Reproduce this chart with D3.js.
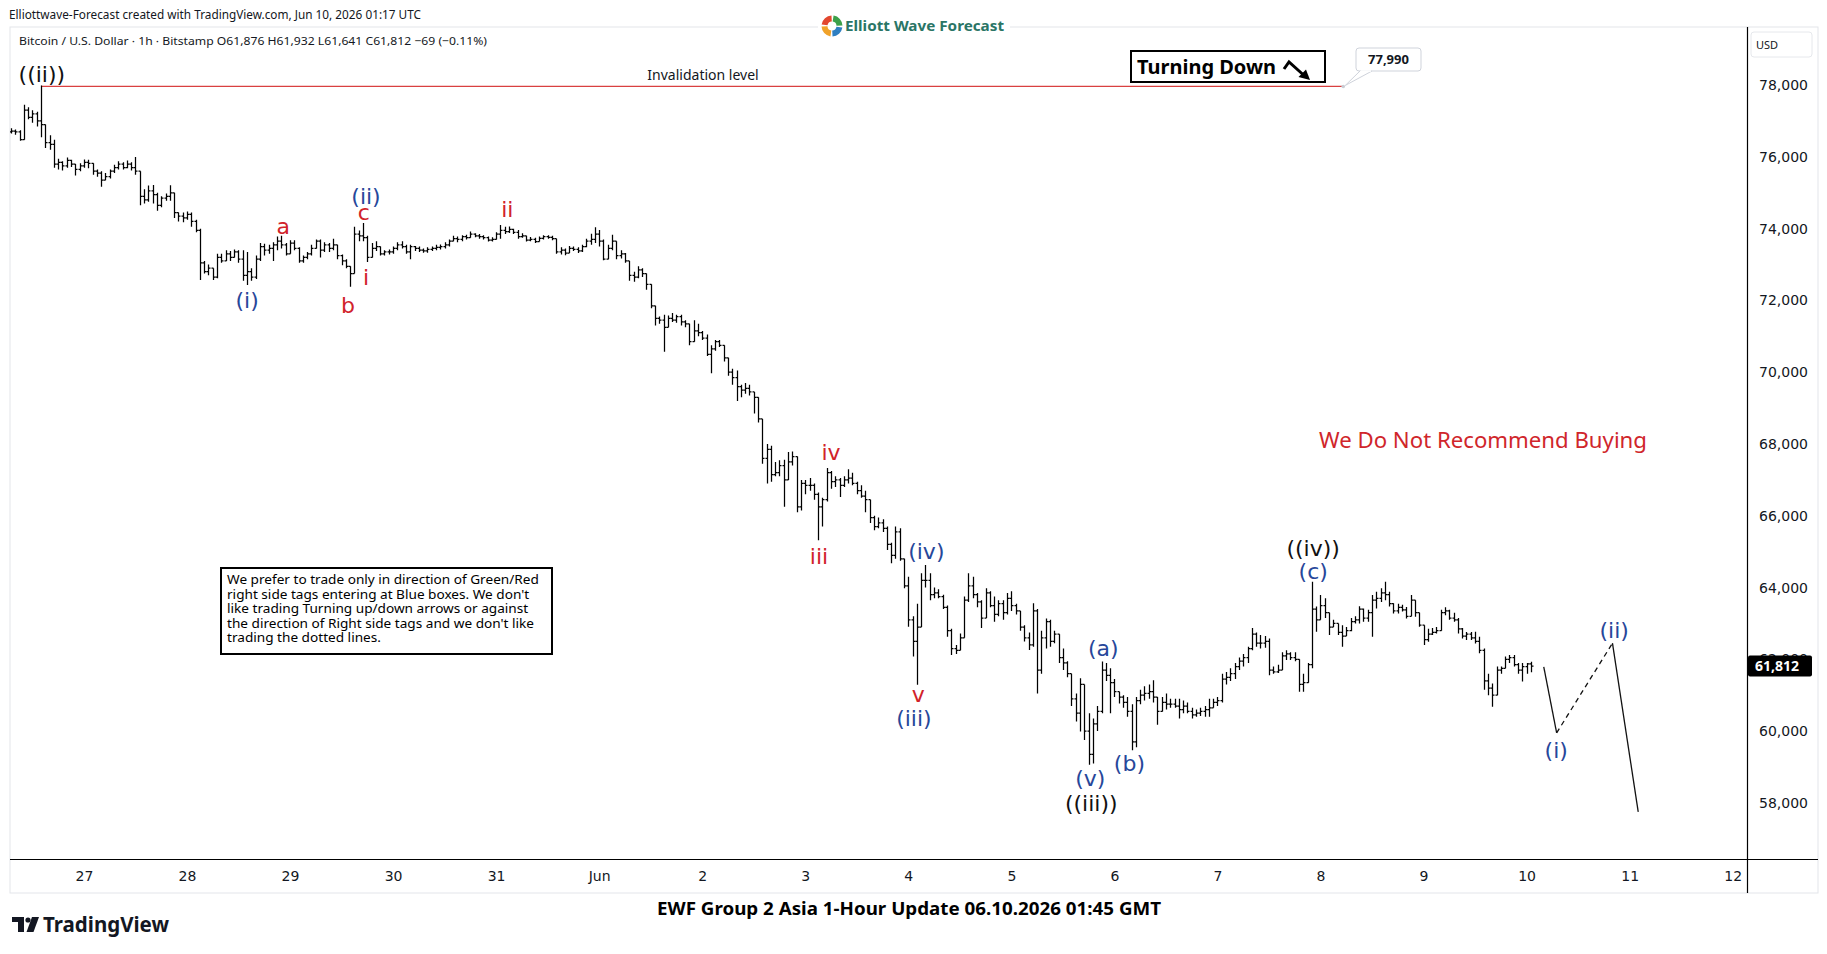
<!DOCTYPE html>
<html lang="en">

<head>
  <meta charset="UTF-8" />
  <title>BTCUSD 1h - Elliott Wave</title>
  <style>
    body {
      margin: 0;
      background: #fff;
    }

    svg {
      display: block;
    }

    text {
      font-family: "Noto Sans", sans-serif;
      fill: #131722;
    }

    .axis text {
      font-family: "DejaVu Sans", sans-serif;
      font-size: 14px;
      fill: #131722;
    }

    .axis path {
      display: none;
    }

    .bar {
      fill: none;
      stroke: #000;
      stroke-width: 1.25;
    }

    .wave {
      font-family: "DejaVu Sans", sans-serif;
      font-size: 22px;
      text-anchor: middle;
    }
  </style>
</head>

<body>
  <svg width="1827" height="954"></svg>

  <script src="https://d3js.org/d3.v7.min.js"></script>
  <script>
    // ---- data: BTC/USD 1h bars, first bar May 26 07:00 UTC, open of each bar = previous close
    const firstBar = Date.UTC(2026, 4, 26, 7);
    const firstOpen = 76700;

    const highs = [
      76800, 76760, 76740, 77450, 77380, 77300, 77260, 77990, 76900, 76600,
      76480, 75950, 75880, 75980, 75920, 75800, 75820, 75930, 75920, 75780,
      75650, 75600, 75550, 75650, 75780, 75880, 75850, 75900, 75850, 76000,
      75600, 75100, 75200, 75220, 75000, 74900, 74980, 75210, 75000, 74450,
      74450, 74480, 74450, 74250, 74000, 73100, 73000, 72900, 73300, 73300,
      73400, 73380, 73420, 73400, 73400, 73350, 72900, 73250, 73600, 73580,
      73550, 73620, 73780, 73800, 73600, 73680, 73680, 73480, 73250, 73350,
      73550, 73700, 73700, 73620, 73600, 73720, 73550, 73280, 73150, 72950,
      74050, 73950, 74160, 73800, 73600, 73650, 73450, 73400, 73420, 73500,
      73620, 73650, 73550, 73550, 73520, 73500, 73450, 73480, 73500, 73550,
      73560, 73620, 73700, 73800, 73780, 73820, 73830, 73920, 73870, 73850,
      73820, 73780, 73760, 73900, 74100, 74050, 74060, 74000, 73960, 73870,
      73800, 73770, 73750, 73780, 73820, 73820, 73800, 73720, 73480, 73450,
      73520, 73500, 73480, 73550, 73720, 73860, 74040, 73960, 73700, 73550,
      73830, 73640, 73400, 73320, 73100, 72800, 72950, 72900, 72750, 72450,
      71850, 71550, 71600, 71580, 71650, 71600, 71600, 71450, 71350, 71450,
      71350, 71150, 71050, 70750, 70900, 70900, 70750, 70400, 70100, 70050,
      69650, 69700, 69650, 69450, 69100, 68700, 68000, 67950, 67500, 67550,
      67560, 67780, 67790, 67650, 67000, 67000, 67050, 66900, 66650, 66500,
      67330, 67250, 67100, 67050, 67100, 67300, 67200, 66950, 66850, 66700,
      66150, 66000, 65950, 65900, 65700, 65250, 65700, 65650, 64770, 64300,
      63200, 63550, 64400, 64630, 64400, 64000, 63950, 63800, 63500, 62850,
      62400, 62720, 63750, 64400, 64300, 63850, 63650, 63980, 63900, 63750,
      63650, 63650, 63850, 63900, 63550, 63350, 62950, 62750, 63560, 63400,
      62800, 63140, 63100, 62800, 62700, 62300, 61950, 61350, 61050, 61470,
      61300, 60500, 60350, 60700, 61940, 61900, 61750, 61450, 61100, 61000,
      60950, 60750, 60950, 61150, 61250, 61300, 61420, 60900, 60950, 61050,
      60900, 60900, 60900, 60850, 60800, 60650, 60600, 60650, 60700, 60900,
      60900, 60950, 61600, 61650, 61750, 61900, 62050, 62150, 62350, 62870,
      62750, 62680, 62650, 62580, 61800, 61850, 62200, 62250, 62200, 62200,
      62000, 61600, 61900, 64160, 63470, 63790, 63700, 63200, 63100, 63000,
      62950, 62900, 63150, 63200, 63480, 63420, 63380, 63790, 63880, 63980,
      64160, 63880, 63560, 63550, 63520, 63460, 63790, 63650, 63200, 62950,
      62850, 62870, 62900, 63380, 63450, 63380, 63300, 63150, 62870, 62760,
      62760, 62770, 62630, 62300, 61600, 61330, 61800, 61800, 62080, 62120,
      62120, 61900, 61900, 61900, 61932
    ];

    const lows = [
      76650, 76620, 76450, 76480, 77050, 76950, 76850, 76550, 76250, 76200,
      75700, 75650, 75620, 75700, 75720, 75480, 75600, 75700, 75680, 75500,
      75450, 75170, 75350, 75400, 75550, 75650, 75650, 75680, 75620, 75500,
      74650, 74700, 74750, 74700, 74500, 74600, 74780, 74780, 74300, 74200,
      74180, 74250, 74050, 73900, 72570, 72750, 72700, 72570, 72620, 73050,
      73100, 73100, 73200, 73050, 72550, 72430, 72550, 72600, 73100, 73250,
      73300, 73100, 73400, 73450, 73250, 73350, 73400, 73050, 73050, 73150,
      73250, 73450, 73200, 73350, 73350, 73400, 73150, 72980, 72900, 72380,
      72850, 73650, 73650, 73070, 73250, 73380, 73250, 73250, 73280, 73300,
      73400, 73450, 73300, 73150, 73380, 73350, 73330, 73330, 73380, 73400,
      73420, 73450, 73500, 73650, 73620, 73650, 73700, 73750, 73760, 73720,
      73700, 73640, 73640, 73700, 73720, 73850, 73880, 73850, 73720, 73750,
      73640, 73650, 73600, 73640, 73700, 73720, 73680, 73300, 73280, 73260,
      73350, 73380, 73320, 73350, 73480, 73550, 73600, 73500, 73120, 73150,
      73400, 73150, 73170, 73050, 72550, 72520, 72620, 72650, 72300, 71780,
      71300, 71350, 70570, 71250, 71400, 71380, 71300, 71250, 70750, 70900,
      71000, 70900, 70450, 69970, 70600, 70700, 70300, 69900, 69650, 69200,
      69300, 69400, 69350, 68850, 68600, 67450, 66900, 66950, 67100, 67100,
      66250, 67250, 67400, 66100, 66150, 66600, 66700, 66450, 65320, 65700,
      66400, 66750, 66800, 66520, 66800, 66900, 66850, 66600, 66500, 66100,
      65800, 65600, 65650, 65550, 65050, 64680, 64800, 64750, 63980, 62910,
      62080, 61290, 62900, 64000, 63650, 63700, 63700, 63400, 62630, 62120,
      62150, 62250, 62600, 63600, 63700, 63450, 62870, 63150, 63450, 63050,
      63200, 63100, 63250, 63350, 63250, 62800, 62500, 62260, 62350, 61050,
      61600, 62300, 62350, 62450, 61900, 61700, 61500, 60700, 60270, 59990,
      59750, 59060, 59100, 60000, 60500, 61400, 60500, 60950, 60770, 60650,
      60400, 59470, 59550, 60750, 60850, 60900, 60800, 60180, 60550, 60600,
      60650, 60650, 60350, 60500, 60500, 60350, 60400, 60420, 60400, 60400,
      60650, 60700, 60800, 61300, 61400, 61450, 61700, 61800, 61900, 62250,
      62350, 62300, 62320, 61560, 61600, 61620, 61800, 61980, 61980, 61950,
      61100, 61100, 61650, 61750, 62770, 63100, 63150, 62680, 62900, 62680,
      62350, 62650, 62780, 63000, 63000, 63050, 63050, 62630, 63420, 63600,
      63650, 63470, 63280, 63280, 63330, 63140, 63470, 63190, 62910, 62400,
      62490, 62680, 62720, 63100, 63230, 63100, 63050, 62720, 62580, 62540,
      62540, 62440, 62170, 61150, 61000, 60680, 61000, 61600, 61750, 61900,
      61800, 61600, 61380, 61600, 61641
    ];

    const closes = [
      76720, 76700, 76480, 77300, 77100, 77200, 77000, 76900, 76400, 76350,
      75800, 75850, 75750, 75900, 75800, 75650, 75750, 75850, 75820, 75600,
      75550, 75350, 75450, 75600, 75700, 75800, 75700, 75800, 75700, 75600,
      74900, 74800, 75050, 74950, 74650, 74850, 74900, 75000, 74450, 74350,
      74300, 74400, 74200, 73950, 73050, 72800, 72900, 72650, 73200, 73100,
      73300, 73200, 73350, 73150, 72700, 72800, 72650, 73150, 73500, 73400,
      73450, 73550, 73650, 73550, 73300, 73600, 73450, 73100, 73200, 73300,
      73450, 73650, 73400, 73550, 73450, 73550, 73250, 73100, 72950, 72750,
      73850, 73800, 73750, 73200, 73450, 73500, 73300, 73350, 73350, 73450,
      73550, 73500, 73350, 73500, 73450, 73400, 73380, 73420, 73450, 73480,
      73500, 73550, 73650, 73720, 73700, 73780, 73750, 73850, 73800, 73780,
      73750, 73680, 73700, 73850, 73950, 73920, 73980, 73900, 73780, 73800,
      73680, 73700, 73640, 73730, 73780, 73760, 73720, 73350, 73400, 73320,
      73450, 73420, 73380, 73500, 73650, 73700, 73850, 73650, 73150, 73450,
      73650, 73250, 73300, 73100, 72700, 72650, 72850, 72750, 72450, 71850,
      71500, 71450, 71250, 71500, 71450, 71550, 71400, 71350, 70850, 71150,
      71100, 70950, 70500, 70650, 70850, 70750, 70400, 70000, 69850, 69600,
      69500, 69550, 69450, 69300, 68700, 67600, 67850, 67150, 67200, 67400,
      67000, 67500, 67650, 66250, 66900, 66850, 66850, 66600, 66250, 66450,
      67200, 66950, 67000, 66850, 67000, 67050, 66900, 66700, 66550, 66450,
      65950, 65700, 65800, 65650, 65200, 64900, 65550, 64800, 64050, 63100,
      62500, 62900, 64200, 64200, 63800, 63850, 63750, 63450, 62800, 62300,
      62250, 62600, 63650, 64050, 63800, 63600, 63150, 63850, 63500, 63250,
      63550, 63300, 63700, 63500, 63350, 62900, 62600, 62400, 63350, 61700,
      62600, 63050, 62500, 62700, 62050, 61900, 61600, 60900, 60500, 61300,
      60000, 59350, 60200, 60550, 61700, 61550, 61350, 61100, 60950, 60800,
      60550, 59700, 60850, 61000, 61050, 61100, 60950, 60550, 60800, 60750,
      60750, 60700, 60600, 60700, 60550, 60450, 60500, 60550, 60600, 60650,
      60800, 60850, 61450, 61500, 61600, 61800, 61950, 62050, 62300, 62700,
      62450, 62450, 62500, 61700, 61650, 61700, 62100, 62150, 62050, 62000,
      61300, 61350, 61850, 63400, 63100, 63500, 63300, 62900, 63000, 62750,
      62650, 62800, 63050, 63100, 63400, 63150, 63300, 63650, 63700, 63850,
      63800, 63550, 63350, 63450, 63380, 63200, 63650, 63300, 62950, 62550,
      62700, 62750, 62800, 63300, 63350, 63150, 63100, 62850, 62650, 62700,
      62600, 62500, 62250, 61400, 61200, 61000, 61700, 61750, 62000, 62050,
      61850, 61700, 61800, 61876, 61812
    ];

    const priceTicks = [58000, 60000, 62000, 64000, 66000, 68000, 70000, 72000, 74000, 76000, 78000];
    const dayTicks = ["2026-05-27", "2026-05-28", "2026-05-29", "2026-05-30", "2026-05-31", "2026-06-01",
      "2026-06-02", "2026-06-03", "2026-06-04", "2026-06-05", "2026-06-06", "2026-06-07", "2026-06-08",
      "2026-06-09", "2026-06-10", "2026-06-11", "2026-06-12"];
    const dayLabels = ["27", "28", "29", "30", "31", "Jun", "2", "3", "4", "5", "6", "7", "8", "9", "10", "11", "12"];

    // wave labels: text, bar index, price at baseline, degree
    const waveLabels = [
      ["((ii))", 7.2, 78080, "minute"],
      ["(i)", 55, 71800, "minuette"],
      ["a", 63.4, 73860, "sub"],
      ["b", 78.5, 71640, "sub"],
      ["c", 82.2, 74240, "sub"],
      ["(ii)", 82.7, 74690, "minuette"],
      ["i", 82.7, 72430, "sub"],
      ["ii", 115.6, 74320, "sub"],
      ["iii", 188.2, 64650, "sub"],
      ["iv", 191, 67550, "sub"],
      ["v", 211.3, 60810, "sub"],
      ["(iii)", 210.3, 60140, "minuette"],
      ["(iv)", 213.2, 64790, "minuette"],
      ["(v)", 251.4, 58470, "minuette"],
      ["((iii))", 251.6, 57775, "minute"],
      ["(a)", 254.4, 62080, "minuette"],
      ["(b)", 260.5, 58900, "minuette"],
      ["(c)", 303.3, 64240, "minuette"],
      ["((iv))", 303.3, 64880, "minute"],
      ["(i)", 359.9, 59260, "minuette"],
      ["(ii)", 373.4, 62600, "minuette"]
    ];
    const degreeColor = { minute: "#111111", minuette: "#27479a", sub: "#d1232a" };

    // projected path after the last bar
    const projBars = [357, 360, 373, 379];
    const projPrices = [61790, 59950, 62450, 57750];
    const projDashed = [false, true, false];

    const invalidPrice = 77990;
    const invalidFromBar = 7;
    const invalidToBar = 310.3;

    const noteLines = [
      "We prefer to trade only in direction of Green/Red",
      "right side tags entering at Blue boxes. We don't",
      "like trading Turning up/down arrows or against",
      "the direction of Right side tags and we don't like",
      "trading the dotted lines."
    ];

    // ---- layout
    const W = 1827, H = 954;
    const pL = 10, pR = 1747, pT = 27, pB = 859, frameR = 1818, frameB = 893;

    const hour = 3600e3;
    const barTime = i => new Date(firstBar + i * hour);

    const x = d3.scaleUtc()
      .domain([new Date(Date.UTC(2026, 4, 26, 6, 47)), new Date(Date.UTC(2026, 5, 12, 3, 20))])
      .range([pL, pR]);
    const y = d3.scaleLinear()
      .domain([56437, 79619])
      .range([pB, pT]);

    const svg = d3.select("svg");

    svg.append("rect").attr("width", W).attr("height", H).attr("fill", "#fff");

    // frame
    svg.append("rect")
      .attr("x", pL).attr("y", pT)
      .attr("width", frameR - pL).attr("height", frameB - pT)
      .attr("fill", "none").attr("stroke", "#e3e5ea");

    // header
    svg.append("text")
      .attr("x", 9).attr("y", 19)
      .attr("font-size", 12)
      .attr("textLength", 412).attr("lengthAdjust", "spacingAndGlyphs")
      .text("Elliottwave-Forecast created with TradingView.com, Jun 10, 2026 01:17 UTC");

    svg.append("text")
      .attr("x", 19).attr("y", 45)
      .attr("font-size", 11.5)
      .attr("textLength", 468).attr("lengthAdjust", "spacingAndGlyphs")
      .text("Bitcoin / U.S. Dollar · 1h · Bitstamp  O61,876  H61,932  L61,641  C61,812  −69 (−0.11%)");

    // EWF logo
    const logo = svg.append("g");
    logo.append("rect").attr("x", 818).attr("y", 14).attr("width", 192).attr("height", 26).attr("fill", "#fff");
    const logoArc = d3.arc().innerRadius(4.5).outerRadius(10.5);
    const logoColors = ["#3ca04a", "#2f7fc1", "#f0a22a", "#e2472f"];
    logoColors.forEach((c, k) => {
      logo.append("path")
        .attr("transform", "translate(832,26)")
        .attr("d", logoArc({ startAngle: k * Math.PI / 2 + 0.15, endAngle: (k + 1) * Math.PI / 2 - 0.05 }))
        .attr("fill", c);
    });
    logo.append("text")
      .attr("x", 845).attr("y", 31)
      .attr("font-family", "Liberation Sans, Arial, sans-serif")
      .attr("font-weight", "bold").attr("font-size", 15)
      .style("fill", "#2a7566")
      .attr("textLength", 159).attr("lengthAdjust", "spacingAndGlyphs")
      .text("Elliott Wave Forecast");

    // axes lines
    svg.append("line").attr("x1", pR + 0.5).attr("x2", pR + 0.5).attr("y1", pT).attr("y2", frameB)
      .attr("stroke", "#000").attr("stroke-width", 1.2);
    svg.append("line").attr("x1", pL).attr("x2", frameR).attr("y1", pB + 0.5).attr("y2", pB + 0.5)
      .attr("stroke", "#000").attr("stroke-width", 1.2);

    // time axis
    const parseDay = d3.utcParse("%Y-%m-%d");
    svg.append("g")
      .attr("class", "axis")
      .attr("transform", `translate(0,${pB})`)
      .call(d3.axisBottom(x)
        .tickValues(dayTicks.map(parseDay))
        .tickFormat((d, i) => dayLabels[i])
        .tickSize(0)
        .tickPadding(12));

    // price axis
    svg.append("g")
      .attr("class", "axis")
      .attr("transform", `translate(${pR},0)`)
      .call(d3.axisRight(y)
        .tickValues(priceTicks)
        .tickFormat(d3.format(","))
        .tickSize(0)
        .tickPadding(12));

    // USD tag
    svg.append("rect").attr("x", 1751).attr("y", 32).attr("width", 61).attr("height", 25).attr("rx", 3)
      .attr("fill", "#fff").attr("stroke", "#e6e8ec");
    svg.append("text").attr("x", 1756).attr("y", 49).attr("font-size", 11).text("USD");

    // clip for the pane
    svg.append("clipPath").attr("id", "pane")
      .append("rect").attr("x", pL).attr("y", pT).attr("width", pR - pL).attr("height", pB - pT);
    const pane = svg.append("g").attr("clip-path", "url(#pane)");

    // invalidation level
    pane.append("line")
      .attr("x1", x(barTime(invalidFromBar))).attr("x2", x(barTime(invalidToBar)))
      .attr("y1", y(invalidPrice) + 1).attr("y2", y(invalidPrice) + 1)
      .attr("stroke", "#d94040").attr("stroke-width", 1.3);
    pane.append("text")
      .attr("x", 703).attr("y", y(invalidPrice) - 5)
      .attr("text-anchor", "middle").attr("font-size", 14)
      .text("Invalidation level");

    // OHLC bars
    const bars = closes.map((c, i) => ({
      t: barTime(i),
      o: i ? closes[i - 1] : firstOpen,
      h: highs[i],
      l: lows[i],
      c: c
    }));

    pane.append("g")
      .selectAll("path")
      .data(bars)
      .join("path")
      .attr("class", "bar")
      .attr("d", d => {
        const cx = Math.round(x(d.t)) + 0.5;
        const hi = y(Math.max(d.h, d.o, d.c));
        const lo = y(Math.min(d.l, d.o, d.c));
        return `M${cx},${hi}V${lo}M${cx - 2},${y(d.o)}H${cx}M${cx},${y(d.c)}H${cx + 2}`;
      });

    // projection
    for (let k = 0; k < projDashed.length; k++) {
      pane.append("line")
        .attr("x1", x(barTime(projBars[k]))).attr("y1", y(projPrices[k]))
        .attr("x2", x(barTime(projBars[k + 1]))).attr("y2", y(projPrices[k + 1]))
        .attr("stroke", "#111").attr("stroke-width", 1.3)
        .attr("stroke-dasharray", projDashed[k] ? "5,4" : null);
    }

    // wave labels
    pane.append("g")
      .selectAll("text")
      .data(waveLabels)
      .join("text")
      .attr("class", "wave")
      .attr("x", d => x(barTime(d[1])))
      .attr("y", d => y(d[2]))
      .style("fill", d => degreeColor[d[3]])
      .text(d => d[0]);

    // recommendation text
    pane.append("text")
      .attr("x", 1483).attr("y", 448)
      .attr("text-anchor", "middle").attr("font-size", 22.2)
      .style("fill", "#d0262b")
      .text("We Do Not Recommend Buying");

    // note box
    const note = pane.append("g");
    note.append("rect").attr("x", 221).attr("y", 568).attr("width", 331).attr("height", 86)
      .attr("fill", "#fff").attr("stroke", "#000").attr("stroke-width", 2);
    note.append("g")
      .attr("transform", "translate(227,0) scale(1.064,1)")
      .selectAll("text")
      .data(noteLines)
      .join("text")
      .attr("x", 0)
      .attr("y", (d, i) => 584 + i * 14.6)
      .attr("font-size", 12.8)
      .style("fill", "#000")
      .text(d => d);

    // Turning Down box
    const td = pane.append("g");
    td.append("rect").attr("x", 1131).attr("y", 51).attr("width", 194).attr("height", 31)
      .attr("fill", "#fff").attr("stroke", "#000").attr("stroke-width", 2);
    td.append("text").attr("x", 1137).attr("y", 74)
      .attr("font-size", 20).attr("font-weight", "bold")
      .style("fill", "#000")
      .attr("textLength", 139).attr("lengthAdjust", "spacingAndGlyphs")
      .text("Turning Down");
    td.append("path").attr("d", "M1284,69L1289,62L1303,74.5")
      .attr("fill", "none").attr("stroke", "#000").attr("stroke-width", 3);
    td.append("path").attr("d", "M1310,80L1298.5,77L1306,69.5Z").attr("fill", "#000");

    // 77,990 callout
    const cx0 = x(barTime(invalidToBar));
    const co = svg.append("g");
    co.append("circle").attr("cx", cx0).attr("cy", y(invalidPrice) + 1).attr("r", 1.8).attr("fill", "#c8ccd4");
    co.append("rect").attr("x", 1356).attr("y", 48).attr("width", 65).attr("height", 23).attr("rx", 3)
      .attr("fill", "#fff").attr("stroke", "#cfd3db");
    co.append("path").attr("d", `M1360,71L${cx0 + 2},${y(invalidPrice)}L1372,71`)
      .attr("fill", "#fff").attr("stroke", "#cfd3db");
    co.append("line").attr("x1", 1361).attr("x2", 1371).attr("y1", 71).attr("y2", 71)
      .attr("stroke", "#fff").attr("stroke-width", 1.5);
    co.append("text").attr("x", 1388.5).attr("y", 64)
      .attr("text-anchor", "middle").attr("font-size", 13).attr("font-weight", "bold")
      .text("77,990");

    // last price tag
    const last = closes[closes.length - 1];
    svg.append("rect").attr("x", pR + 1).attr("y", y(last) - 10.5).attr("width", 64).attr("height", 21).attr("rx", 2)
      .attr("fill", "#000");
    svg.append("text").attr("x", pR + 8).attr("y", y(last) + 5)
      .attr("font-family", "DejaVu Sans, sans-serif").attr("font-size", 14).attr("font-weight", "bold")
      .style("fill", "#fff")
      .text(d3.format(",")(last));

    // footer
    svg.append("text")
      .attr("x", 909).attr("y", 915)
      .attr("text-anchor", "middle")
      .attr("font-family", "Liberation Sans, Arial, sans-serif")
      .attr("font-size", 17.5).attr("font-weight", "bold")
      .style("fill", "#000")
      .attr("textLength", 504).attr("lengthAdjust", "spacingAndGlyphs")
      .text("EWF Group 2 Asia 1-Hour Update 06.10.2026 01:45 GMT");

    // TradingView mark
    const tv = svg.append("g").attr("fill", "#131722");
    tv.append("path").attr("d", "M12,917H24V932H18V922H12Z");
    tv.append("circle").attr("cx", 28).attr("cy", 920).attr("r", 2.6);
    tv.append("path").attr("d", "M32,917H39L33.5,932H26.5Z");
    svg.append("text")
      .attr("x", 43).attr("y", 932)
      .attr("font-family", "Liberation Sans, Arial, sans-serif")
      .attr("font-size", 20.5).attr("font-weight", "bold")
      .attr("textLength", 126).attr("lengthAdjust", "spacingAndGlyphs")
      .text("TradingView");
  </script>
</body>

</html>
